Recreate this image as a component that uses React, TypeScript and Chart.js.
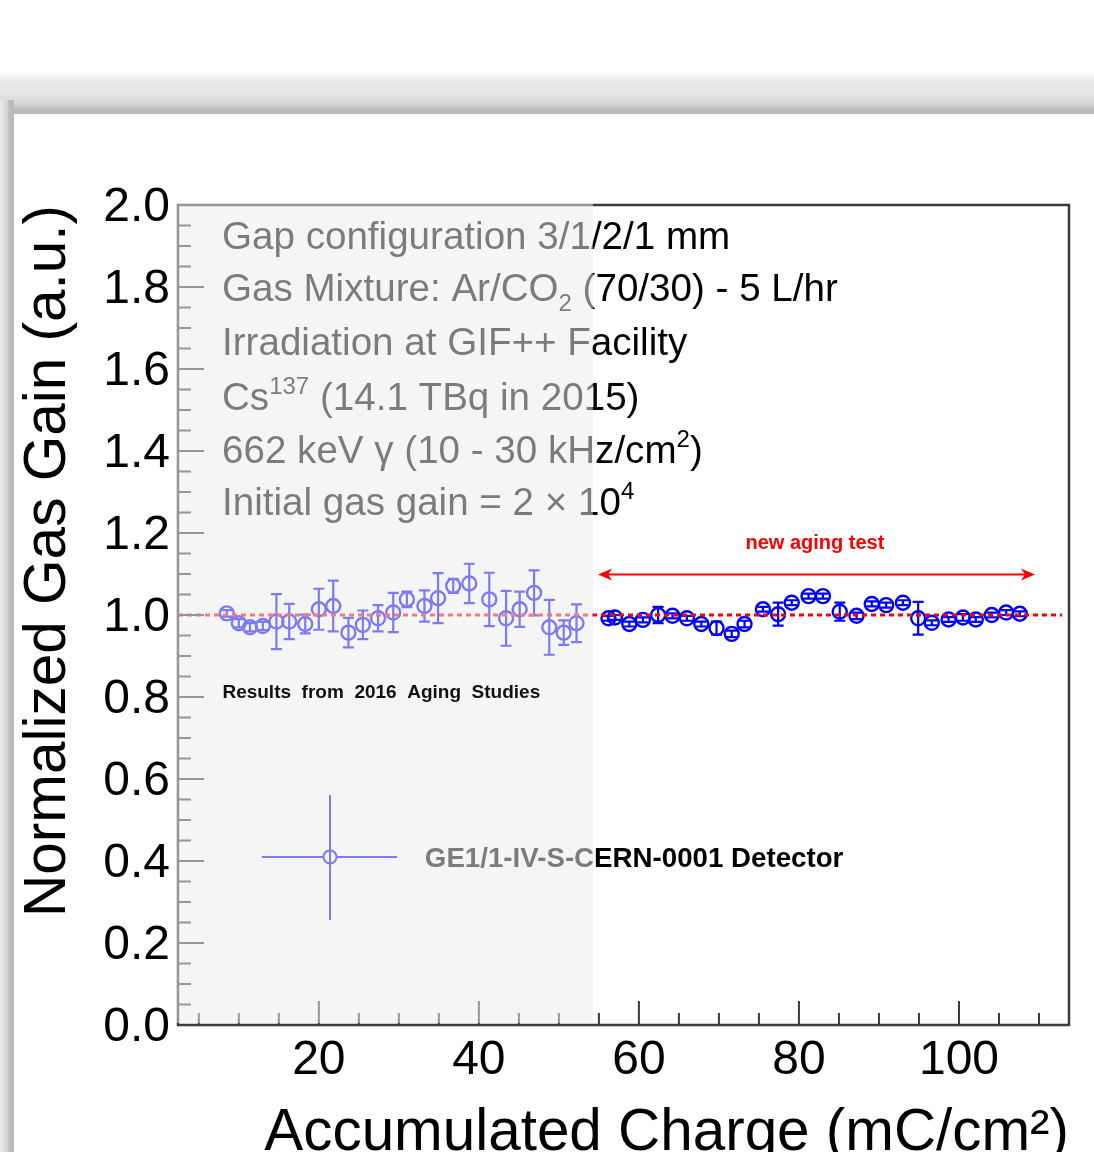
import { useEffect, useRef } from 'react';
import { Chart, registerables } from 'chart.js';

Chart.register(...registerables);

// ---------------- data ----------------
const aging2016Charge = [8.5, 10.0, 11.4, 13.0, 14.7, 16.3, 18.3, 20.0, 21.8, 23.7, 25.5, 27.4, 29.3, 31.0, 33.2, 34.9, 36.8, 38.8, 41.3, 43.4, 45.1, 46.9, 48.8, 50.6, 52.2];
const aging2016Gain = [1.004, 0.98, 0.97, 0.973, 0.984, 0.984, 0.978, 1.014, 1.022, 0.957, 0.976, 0.992, 1.006, 1.038, 1.022, 1.041, 1.071, 1.077, 1.038, 0.992, 1.014, 1.054, 0.97, 0.957, 0.98];
const aging2016Err = [0.008, 0.01, 0.01, 0.01, 0.067, 0.043, 0.023, 0.05, 0.062, 0.036, 0.035, 0.032, 0.048, 0.019, 0.038, 0.061, 0.017, 0.048, 0.065, 0.067, 0.043, 0.055, 0.067, 0.03, 0.046];

const newTestCharge = [56.2, 57.0, 58.8, 60.5, 62.4, 64.2, 66.0, 67.8, 69.7, 71.6, 73.2, 75.5, 77.4, 79.1, 81.2, 83.0, 85.1, 87.2, 89.1, 90.9, 93.0, 94.9, 96.6, 98.7, 100.5, 102.1, 104.1, 105.9, 107.6];
const newTestGain = [0.992, 0.994, 0.978, 0.988, 1.0, 0.998, 0.992, 0.978, 0.968, 0.954, 0.978, 1.014, 1.002, 1.03, 1.046, 1.046, 1.008, 0.998, 1.027, 1.024, 1.03, 0.992, 0.981, 0.989, 0.994, 0.989, 1.0, 1.006, 1.003];
const newTestErr = [0.006, 0.006, 0.006, 0.006, 0.02, 0.006, 0.006, 0.006, 0.016, 0.008, 0.008, 0.006, 0.028, 0.006, 0.006, 0.006, 0.022, 0.008, 0.006, 0.006, 0.006, 0.04, 0.006, 0.006, 0.008, 0.006, 0.006, 0.006, 0.006];

const referenceCharge = [2.4, 112.9];
const referenceGain = [1.0, 1.0];

const xTickValues = [20, 40, 60, 80, 100];
const yTickValues = [0, 0.2, 0.4, 0.6, 0.8, 1.0, 1.2, 1.4, 1.6, 1.8, 2.0];

const X_MIN = 2.4;
const X_MAX = 113.75;
const Y_MIN = 0;
const Y_MAX = 2.0;

// Annotation contents
type Seg = { t: string; sup?: boolean; sub?: boolean };
const infoLines: Seg[][] = [
  [{ t: 'Gap configuration 3/1/2/1 mm' }],
  [{ t: 'Gas Mixture: Ar/CO' }, { t: '2', sub: true }, { t: ' (70/30) - 5 L/hr' }],
  [{ t: 'Irradiation at GIF++ Facility' }],
  [{ t: 'Cs' }, { t: '137', sup: true }, { t: ' (14.1 TBq in 2015)' }],
  [{ t: '662 keV \u03b3 (10 - 30 kHz/cm' }, { t: '2', sup: true }, { t: ')' }],
  [{ t: 'Initial gas gain = 2 \u00d7 10' }, { t: '4', sup: true }],
];
const infoLineGain = [1.893, 1.766, 1.634, 1.5, 1.371, 1.244];
const infoCharge = 7.9;

const legendLabel = 'GE1/1-IV-S-CERN-0001 Detector';
const resultsLabel = 'Results  from  2016  Aging  Studies';
const newTestLabel = 'new aging test';
const arrowFrom = 54.9;
const arrowTo = 109.5;
const arrowGain = 1.099;
const overlayEndCharge = 54.25;

const FONT = "'Liberation Sans', Arial, Helvetica, sans-serif";

function drawRich(ctx: CanvasRenderingContext2D, segs: Seg[], x: number, y: number, size: number) {
  let cx = x;
  for (const s of segs) {
    const small = s.sup || s.sub;
    const fs = small ? Math.round(size * 0.62) : size;
    ctx.font = `${fs}px ${FONT}`;
    const dy = s.sup ? -size * 0.42 : s.sub ? size * 0.26 : 0;
    ctx.fillText(s.t, cx, y + dy);
    cx += ctx.measureText(s.t).width;
  }
}

const errorBarPlugin = {
  id: 'errorBars',
  beforeDatasetsDraw(chart: any) {
    const ctx = chart.ctx as CanvasRenderingContext2D;
    const ys = chart.scales.y;
    chart.data.datasets.forEach((ds: any, i: number) => {
      if (!ds.errorBars) return;
      const meta = chart.getDatasetMeta(i);
      ctx.save();
      ctx.strokeStyle = ds.borderColor;
      ctx.lineWidth = 2.2;
      meta.data.forEach((el: any, j: number) => {
        const v = ds.data[j].y;
        const e = ds.errorBars[j];
        const top = ys.getPixelForValue(v + e);
        const bot = ys.getPixelForValue(v - e);
        ctx.beginPath();
        ctx.moveTo(el.x, top);
        ctx.lineTo(el.x, bot);
        ctx.moveTo(el.x - 5.5, top);
        ctx.lineTo(el.x + 5.5, top);
        ctx.moveTo(el.x - 5.5, bot);
        ctx.lineTo(el.x + 5.5, bot);
        ctx.stroke();
      });
      ctx.restore();
    });
  },
};

const decorPlugin = {
  id: 'decor',
  beforeDraw(chart: any) {
    const ctx = chart.ctx as CanvasRenderingContext2D;
    const W = chart.width;
    const H = chart.height;
    ctx.save();
    ctx.fillStyle = '#ffffff';
    ctx.fillRect(0, 0, W, H);
    // top shadow band
    const g = ctx.createLinearGradient(0, 72, 0, 114);
    g.addColorStop(0, 'rgba(200,200,200,0)');
    g.addColorStop(0.45, 'rgba(232,232,232,1)');
    g.addColorStop(0.75, 'rgba(214,214,214,1)');
    g.addColorStop(0.88, 'rgba(190,190,190,1)');
    g.addColorStop(1, 'rgba(185,185,185,1)');
    ctx.fillStyle = g;
    ctx.fillRect(0, 72, W, 42);
    // left shadow band
    const gl = ctx.createLinearGradient(0, 0, 14, 0);
    gl.addColorStop(0, 'rgba(232,232,232,1)');
    gl.addColorStop(0.5, 'rgba(214,214,214,1)');
    gl.addColorStop(0.65, 'rgba(190,190,190,1)');
    gl.addColorStop(1, 'rgba(185,185,185,1)');
    ctx.fillStyle = gl;
    ctx.fillRect(0, 100, 14, H - 100);
    ctx.fillStyle = '#ffffff';
    ctx.fillRect(14, 114, W - 14, H - 114);
    ctx.restore();
  },
  afterDatasetsDraw(chart: any) {
    const ctx = chart.ctx as CanvasRenderingContext2D;
    const { left, right, top, bottom } = chart.chartArea;
    const xs = chart.scales.x;
    const ys = chart.scales.y;
    ctx.save();

    // frame
    ctx.strokeStyle = '#3a3a3a';
    ctx.lineWidth = 2.5;
    ctx.strokeRect(left, top, right - left, bottom - top);

    // ticks on left axis
    ctx.lineWidth = 2;
    ctx.strokeStyle = '#3a3a3a';
    ctx.beginPath();
    for (let k = 0; k <= 40; k++) {
      const v = Y_MIN + k * 0.05;
      const py = ys.getPixelForValue(v);
      const len = k % 4 === 0 ? 26 : 13;
      ctx.moveTo(left, py);
      ctx.lineTo(left + len, py);
    }
    // ticks on bottom axis
    for (let v = 5; v <= 110; v += 5) {
      const px = xs.getPixelForValue(v);
      const len = v % 20 === 0 ? 24 : 12;
      ctx.moveTo(px, bottom);
      ctx.lineTo(px, bottom - len);
    }
    ctx.stroke();

    // info text block
    ctx.fillStyle = '#000000';
    ctx.textBaseline = 'alphabetic';
    ctx.textAlign = 'left';
    const ix = xs.getPixelForValue(infoCharge);
    infoLines.forEach((segs, i) => {
      drawRich(ctx, segs, ix, ys.getPixelForValue(infoLineGain[i]), 38.6);
    });

    // legend entry
    const lx = xs.getPixelForValue(21.4);
    const ly = ys.getPixelForValue(0.41);
    ctx.strokeStyle = '#0000ff';
    ctx.lineWidth = 2;
    ctx.beginPath();
    ctx.moveTo(lx - 68, ly);
    ctx.lineTo(lx - 7, ly);
    ctx.moveTo(lx + 7, ly);
    ctx.lineTo(lx + 67, ly);
    ctx.moveTo(lx, ly - 62);
    ctx.lineTo(lx, ly + 63);
    ctx.stroke();
    ctx.beginPath();
    ctx.arc(lx, ly, 6.5, 0, Math.PI * 2);
    ctx.stroke();
    ctx.fillStyle = '#000000';
    ctx.font = `bold 27.7px ${FONT}`;
    ctx.fillText(legendLabel, xs.getPixelForValue(33.25), ly + 10);

    // arrow
    const ax1 = xs.getPixelForValue(arrowFrom);
    const ax2 = xs.getPixelForValue(arrowTo);
    const ay = ys.getPixelForValue(arrowGain);
    ctx.strokeStyle = '#ff0000';
    ctx.fillStyle = '#ff0000';
    ctx.lineWidth = 2;
    ctx.beginPath();
    ctx.moveTo(ax1 + 4, ay);
    ctx.lineTo(ax2 - 4, ay);
    ctx.stroke();
    const head = (tip: number, dir: number) => {
      ctx.beginPath();
      ctx.moveTo(tip, ay);
      ctx.lineTo(tip - dir * 14, ay - 6);
      ctx.lineTo(tip - dir * 10, ay);
      ctx.lineTo(tip - dir * 14, ay + 6);
      ctx.closePath();
      ctx.fill();
    };
    head(ax1, -1);
    head(ax2, 1);
    ctx.font = `bold 20px ${FONT}`;
    ctx.textAlign = 'center';
    ctx.fillText(newTestLabel, xs.getPixelForValue(82), ys.getPixelForValue(1.16));

    // translucent overlay on 2016 region
    const ox2 = xs.getPixelForValue(overlayEndCharge);
    ctx.fillStyle = 'rgba(236,236,236,0.52)';
    ctx.fillRect(left - 2, top - 2, ox2 - left + 2, bottom - top);

    // results label on top
    ctx.fillStyle = '#111111';
    ctx.textAlign = 'left';
    ctx.font = `bold 19px ${FONT}`;
    ctx.fillText(resultsLabel, xs.getPixelForValue(7.95), ys.getPixelForValue(0.797));

    ctx.restore();
  },
};

export default function App() {
  const ref = useRef<HTMLCanvasElement>(null);
  useEffect(() => {
    const canvas = ref.current;
    if (!canvas) return;
    const pointStyle = {
      borderColor: '#0000ff',
      backgroundColor: 'rgba(0,0,0,0)',
      pointBorderColor: '#0000ff',
      pointBackgroundColor: 'rgba(0,0,0,0)',
      pointRadius: 7,
      pointBorderWidth: 2.4,
    };
    const chart = new Chart(canvas, {
      type: 'scatter',
      data: {
        datasets: [
          {
            type: 'line',
            label: 'Reference',
            data: referenceCharge.map((x, i) => ({ x, y: referenceGain[i] })),
            borderColor: '#ff0000',
            borderWidth: 3,
            borderDash: [5, 4],
            pointRadius: 0,
            showLine: true,
            fill: false,
          } as any,
          {
            label: '2016 aging studies',
            data: aging2016Charge.map((x, i) => ({ x, y: aging2016Gain[i] })),
            errorBars: aging2016Err,
            ...pointStyle,
          } as any,
          {
            label: 'new aging test',
            data: newTestCharge.map((x, i) => ({ x, y: newTestGain[i] })),
            errorBars: newTestErr,
            ...pointStyle,
          } as any,
        ],
      },
      options: {
        animation: false,
        responsive: false,
        devicePixelRatio: 1,
        layout: { padding: { top: 205, right: 25, bottom: 0, left: 0 } },
        plugins: { legend: { display: false }, tooltip: { enabled: false } },
        scales: {
          x: {
            type: 'linear',
            min: X_MIN,
            max: X_MAX,
            grid: { display: false, drawTicks: false },
            border: { display: false },
            afterBuildTicks: (s: any) => {
              s.ticks = xTickValues.map((v) => ({ value: v }));
            },
            afterFit: (s: any) => {
              s.height = 127;
            },
            ticks: {
              autoSkip: false,
              maxRotation: 0,
              padding: 7,
              color: '#000000',
              font: { family: FONT, size: 48 },
              callback: (v: any) => String(v),
            },
            title: {
              display: true,
              text: 'Accumulated Charge (mC/cm\u00b2)',
              align: 'end',
              color: '#000000',
              font: { family: FONT, size: 58.4, lineHeight: 0.62 },
              padding: { top: 0, bottom: 0 },
            },
          },
          y: {
            type: 'linear',
            min: Y_MIN,
            max: Y_MAX,
            grid: { display: false, drawTicks: false },
            border: { display: false },
            afterBuildTicks: (s: any) => {
              s.ticks = yTickValues.map((v) => ({ value: v }));
            },
            afterFit: (s: any) => {
              s.width = 178;
            },
            ticks: {
              autoSkip: false,
              padding: 8,
              labelOffset: 3,
              color: '#000000',
              font: { family: FONT, size: 48 },
              callback: (v: any) => Number(v).toFixed(1),
            },
            title: {
              display: true,
              text: 'Normalized Gas Gain (a.u.)',
              align: 'end',
              color: '#000000',
              font: { family: FONT, size: 58.5, lineHeight: 0.83 },
              padding: { top: 25, bottom: 0 },
            },
          },
        },
      } as any,
      plugins: [decorPlugin, errorBarPlugin],
    });
    return () => chart.destroy();
  }, []);
  return (
    <div style={{ position: 'absolute', left: 0, top: 0, width: 1094, height: 1152 }}>
      <canvas ref={ref} width={1094} height={1152} style={{ display: 'block', width: 1094, height: 1152 }} />
    </div>
  );
}
